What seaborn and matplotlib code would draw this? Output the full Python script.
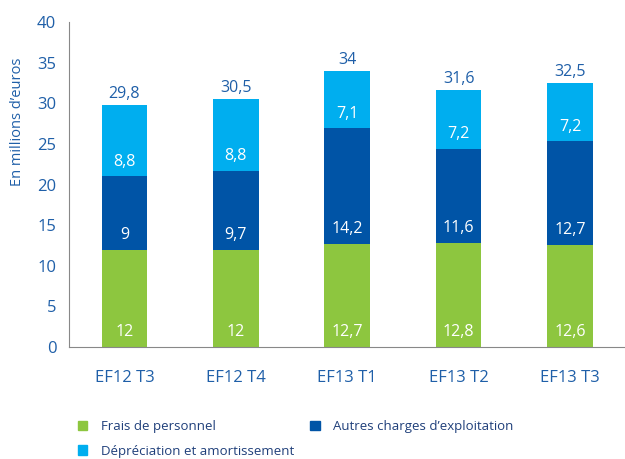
import pandas as pd
import numpy as np
import matplotlib
matplotlib.use("Agg")
import matplotlib.pyplot as plt
import seaborn as sns
from matplotlib.patches import Patch

# data
periodes = ["EF12 T3", "EF12 T4", "EF13 T1", "EF13 T2", "EF13 T3"]
frais_personnel = [12, 12, 12.7, 12.8, 12.6]
autres_charges = [9, 9.7, 14.2, 11.6, 12.7]
depreciation = [8.8, 8.8, 7.1, 7.2, 7.2]
totaux = [29.8, 30.5, 34, 31.6, 32.5]

vert = "#8dc63f"
bleu_fonce = "#0054a6"
bleu_clair = "#00aeef"
texte = "#1f5fa8"

sns.set_style("white")
plt.rcParams["font.family"] = ["Open Sans", "DejaVu Sans"]

df = pd.DataFrame({"periode": periodes,
                   "personnel": frais_personnel,
                   "autres": autres_charges,
                   "depr": depreciation})
df["niv2"] = df["personnel"] + df["autres"]
df["niv3"] = df["niv2"] + df["depr"]

fig = plt.figure(figsize=(6.25, 4.59), dpi=100)
ax = fig.add_axes([0.110, 0.244, 0.891, 0.708])

# barres empilees, de l'arriere vers l'avant
for col, c in [("niv3", bleu_clair), ("niv2", bleu_fonce), ("personnel", vert)]:
    sns.barplot(data=df, x="periode", y=col, color=c, width=0.41,
                saturation=1, linewidth=0, ax=ax)

def fmt(v):
    return str(v).replace(".", ",")

for i in range(len(df)):
    ax.text(i, 1.8, fmt(frais_personnel[i]), ha="center", va="center",
            color="white", fontsize=11.5)
    ax.text(i, df["personnel"][i] + 1.8, fmt(autres_charges[i]), ha="center",
            va="center", color="white", fontsize=11.5)
    ax.text(i, df["niv2"][i] + 1.8, fmt(depreciation[i]), ha="center",
            va="center", color="white", fontsize=11.5)
    ax.text(i, totaux[i] + 0.4, fmt(totaux[i]), ha="center", va="bottom",
            color=texte, fontsize=11.5)

ax.set_ylim(0, 40)
ax.set_xlim(-0.5, 4.5)
ax.set_yticks(range(0, 41, 5))
ax.set_xticks(np.arange(-0.5, 5, 1))
ax.set_xticklabels([])
ax.tick_params(axis="x", length=7, color="#888888", direction="out")
ax.tick_params(axis="y", length=6, color="#888888", direction="out",
               labelcolor=texte, labelsize=12, pad=3)
for i, p in enumerate(periodes):
    ax.text(i, -2.8, p, ha="center", va="top", color=texte, fontsize=12)

sns.despine(ax=ax, top=True, right=True)
ax.spines["left"].set_color("#888888")
ax.spines["bottom"].set_color("#888888")
ax.set_xlabel("")
ax.set_ylabel("")
ax.text(-0.0916, 27.7, "En millions d\u2019euros", rotation=90, ha="center",
        va="center", color=texte, fontsize=10.5,
        transform=ax.get_yaxis_transform())

handles = [Patch(color=vert, label="Frais de personnel"),
           Patch(color=bleu_clair, label="D\u00e9pr\u00e9ciation et amortissement"),
           Patch(color=bleu_fonce, label="Autres charges d\u2019exploitation")]
leg = fig.legend(handles=handles, ncol=2, loc="upper left",
                 bbox_to_anchor=(0.106, 0.11), frameon=False, fontsize=9.5,
                 handlelength=0.7, handleheight=0.7, handletextpad=1.05,
                 columnspacing=1.2, labelspacing=0.85)
for t in leg.get_texts():
    t.set_color("#1f3f7a")

fig.savefig("out.png", dpi=100)
